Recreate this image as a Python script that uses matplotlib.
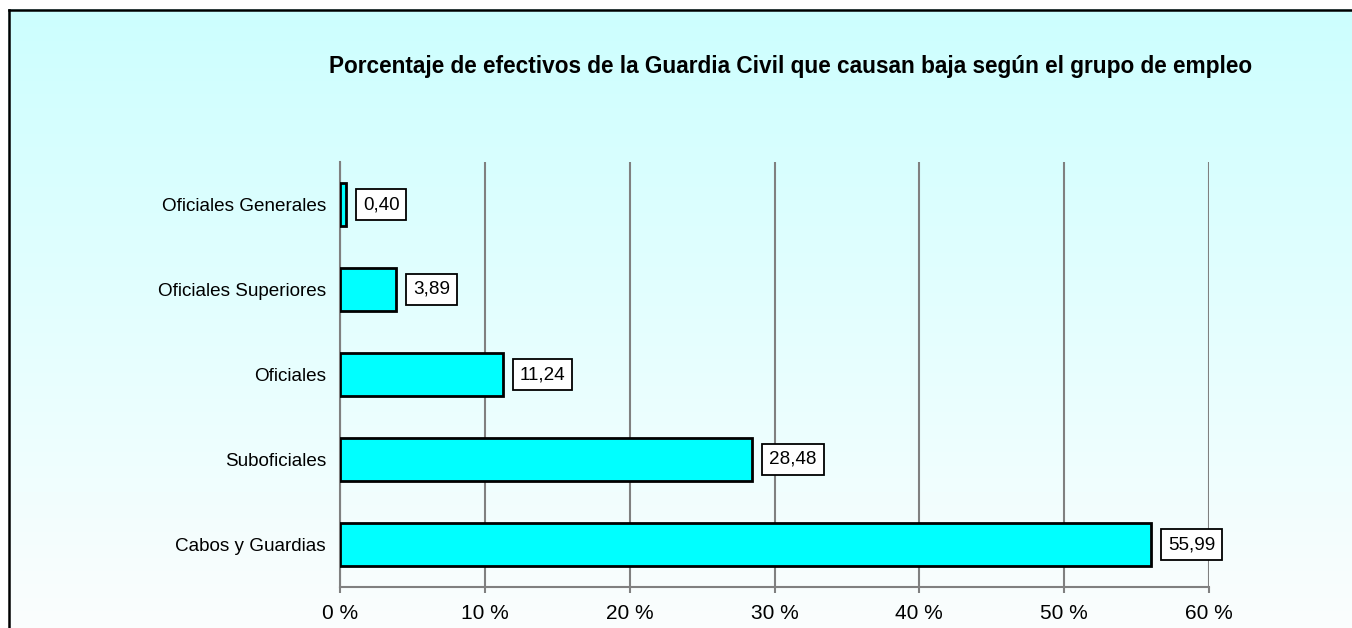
import numpy as np
import matplotlib
matplotlib.use("Agg")
import matplotlib.pyplot as plt
from matplotlib.patches import Rectangle
from matplotlib.ticker import FuncFormatter

categories = ["Cabos y Guardias", "Suboficiales", "Oficiales",
              "Oficiales Superiores", "Oficiales Generales"]
values = [55.99, 28.48, 11.24, 3.89, 0.40]
value_labels = ["55,99", "28,48", "11,24", "3,89", "0,40"]
xticks = [0, 10, 20, 30, 40, 50, 60]
title = "Porcentaje de efectivos de la Guardia Civil que causan baja según el grupo de empleo"

W, H = 1352, 628
fig = plt.figure(figsize=(W / 100, H / 100), dpi=100)
plt.rcParams['font.family'] = ['Liberation Sans', 'DejaVu Sans']

# gradient background
bg = fig.add_axes([0, 0, 1, 1], zorder=-10)
bg.set_axis_off()
top = np.array([0.80, 1.0, 1.0])
bot = np.array([0.985, 0.995, 0.995])
t = np.linspace(0, 1, 256)[:, None]
grad = top[None, :] * (1 - t) + bot[None, :] * t
img = np.repeat(grad[:, None, :], 2, axis=1)
bg.imshow(img, aspect='auto', extent=[0, 1, 0, 1], origin='upper')
bg.set_xlim(0, 1); bg.set_ylim(0, 1)
# outer white margins
bg.add_patch(Rectangle((0, 0), 8 / W, 1, facecolor='white', edgecolor='none', zorder=2))
bg.add_patch(Rectangle((0, 1 - 9 / H), 1, 9 / H, facecolor='white', edgecolor='none', zorder=2))
# border lines
bg.plot([9 / W, 9 / W], [-0.1, 1 - 10 / H], color='black', lw=1.8, zorder=3, solid_capstyle='projecting')
bg.plot([9 / W, 1.1], [1 - 10 / H, 1 - 10 / H], color='black', lw=1.8, zorder=3, solid_capstyle='projecting')

ax = fig.add_axes([340 / W, 1 - 587 / H, (1209 - 340) / W, (587 - 162) / H])
ax.set_facecolor('none')
ypos = np.arange(len(categories))
ax.barh(ypos, values, height=0.5, color='#00FFFF', edgecolor='black', linewidth=2, zorder=3)
ax.set_xlim(0, 60)
ax.set_ylim(-0.5, len(categories) - 0.5)
ax.set_xticks(xticks)
ax.xaxis.set_major_formatter(FuncFormatter(lambda v, p: f"{int(v)} %"))
ax.set_yticks(ypos)
ax.set_yticklabels(categories)
ax.tick_params(axis='y', length=0, pad=10, labelsize=13.6)
ax.tick_params(axis='x', length=4.5, width=1.5, color='#808080', pad=8, labelsize=15)
ax.grid(axis='x', color='#808080', linewidth=1.5, zorder=1)
for s in ['top', 'right']:
    ax.spines[s].set_visible(False)
for s in ['left', 'bottom']:
    ax.spines[s].set_color('#808080')
    ax.spines[s].set_linewidth(1.5)

for y, v, lab in zip(ypos, values, value_labels):
    ax.annotate(lab, xy=(v, y), xytext=(17, 0), textcoords='offset pixels',
                ha='left', va='center', fontsize=13.6, zorder=5,
                bbox=dict(boxstyle='square,pad=0.37', facecolor='white',
                          edgecolor='black', linewidth=1.3))

fig.text(791 / W, 1 - 67 / H, title, ha='center', va='center',
         fontsize=16.3, fontweight='bold')

fig.savefig('out.png', dpi=100)
